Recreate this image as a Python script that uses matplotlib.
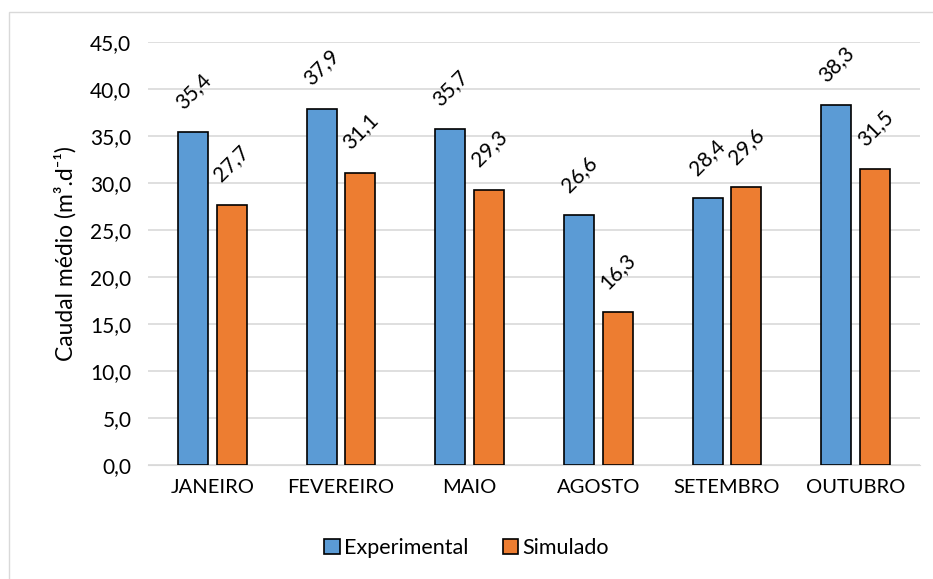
import numpy as np
import matplotlib.pyplot as plt
from matplotlib.patches import Rectangle

meses = ["JANEIRO", "FEVEREIRO", "MAIO", "AGOSTO", "SETEMBRO", "OUTUBRO"]
experimental = [35.4, 37.9, 35.7, 26.6, 28.4, 38.3]
simulado = [27.7, 31.1, 29.3, 16.3, 29.6, 31.5]

plt.rcParams['font.family'] = ['Lato', 'DejaVu Sans']

fig = plt.figure(figsize=(9.33, 5.79), dpi=100)
ax = fig.add_axes([0.1586, 0.197, 0.8274, 0.7305])

# moldura cinzenta à volta da figura
fig.patches.append(Rectangle((0.0097, -0.01), 1.0, 0.989, transform=fig.transFigure,
                             fill=False, edgecolor='#d9d9d9', linewidth=1.0))

x = np.arange(len(meses))
w = 0.233
b1 = ax.bar(x - 0.15, experimental, w, color='#5b9bd5', edgecolor='black',
            linewidth=1.2, label='Experimental', zorder=3)
b2 = ax.bar(x + 0.15, simulado, w, color='#ed7d31', edgecolor='black',
            linewidth=1.2, label='Simulado', zorder=3)

for barras in (b1, b2):
    for r in barras:
        h = r.get_height()
        ax.annotate(f"{h:.1f}".replace('.', ','),
                    (r.get_x() + r.get_width() / 2, h),
                    xytext=(0, 14), textcoords='offset points',
                    ha='center', va='bottom', rotation=45, fontsize=15)

ax.set_ylim(0, 45)
ax.set_xlim(-0.5, len(meses) - 0.5)
ax.set_yticks(np.arange(0, 46, 5))
ax.set_yticklabels([f"{v:.1f}".replace('.', ',') for v in np.arange(0, 46, 5)], fontsize=15)
ax.set_xticks(x)
ax.set_xticklabels(meses, fontsize=14.5)
ax.tick_params(length=0)
ax.tick_params(axis='y', pad=12)
ax.tick_params(axis='x', pad=10)
ax.set_ylabel('Caudal médio (m³.d⁻¹)', fontsize=16.5, labelpad=10)

ax.grid(axis='y', color='#d9d9d9', linewidth=1.2, zorder=0)
for s in ['top', 'right', 'left']:
    ax.spines[s].set_visible(False)
ax.spines['bottom'].set_color('#d9d9d9')

fig.legend(loc='center', bbox_to_anchor=(0.5, 0.053), ncol=2, frameon=False,
           fontsize=15.5, handlelength=0.7, handleheight=0.7, handletextpad=0.2,
           columnspacing=1.6)

fig.savefig('out.png', dpi=100)
